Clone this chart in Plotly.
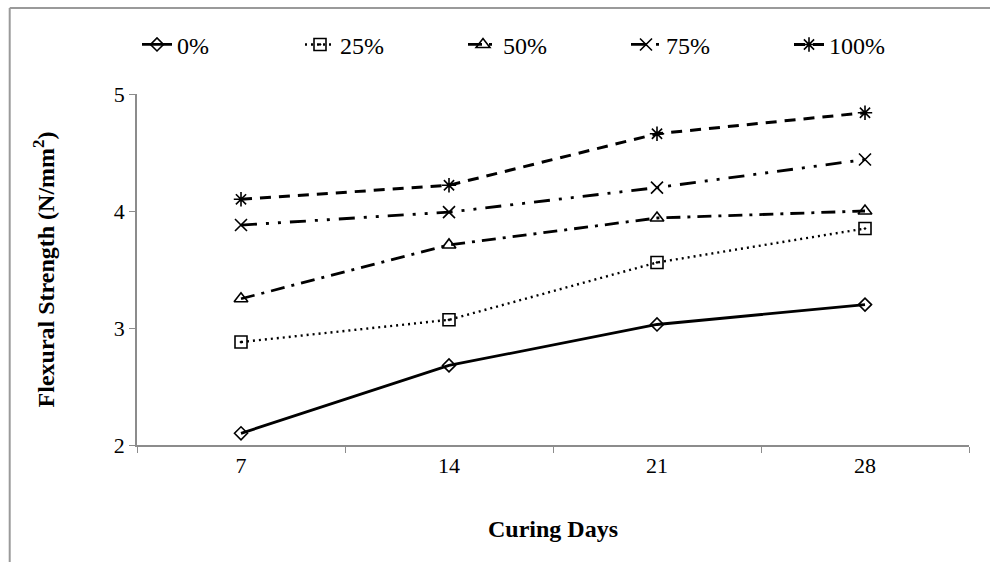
import plotly.graph_objects as go

days = ["7", "14", "21", "28"]
s0 = [2.10, 2.68, 3.03, 3.20]
s25 = [2.88, 3.07, 3.56, 3.85]
s50 = [3.25, 3.71, 3.94, 4.00]
s75 = [3.88, 3.99, 4.20, 4.44]
s100 = [4.10, 4.22, 4.66, 4.84]
names = ["0%", "25%", "50%", "75%", "100%"]

series = [s0, s25, s50, s75, s100]
dashes = ["solid", "2px,4px", "14px,7px,3px,7px", "16px,9px,3px,9px,3px,9px", "11px,8px"]
widths = [2.8, 2.4, 2.8, 2.8, 3.0]
symbols = ["diamond-open", "square-open-dot", "triangle-up-open", "x-thin-open", "asterisk-open"]
sizes = [10, 12, 12, 12, 12]

fig = go.Figure()
for name, vals, dash, w, sym, sz in zip(names, series, dashes, widths, symbols, sizes):
    fig.add_trace(go.Scatter(
        x=days, y=vals, name=name, mode="lines+markers",
        line=dict(color="black", width=w, dash=dash),
        marker=dict(symbol=sym, size=sz, color="black", line=dict(color="black", width=1.6)),
    ))

font_family = "Liberation Serif, Times New Roman, serif"
fig.update_layout(
    width=990, height=562,
    margin=dict(l=137, r=21, t=94, b=117, autoexpand=False),
    paper_bgcolor="white", plot_bgcolor="white",
    font=dict(family=font_family, size=22, color="black"),
    showlegend=True,
    legend=dict(orientation="h", x=0.0, xanchor="left", y=1.14, yanchor="middle",
                font=dict(size=24), entrywidth=118, tracegroupgap=0,
                bgcolor="rgba(0,0,0,0)"),
    xaxis=dict(
        type="category", tickson="boundaries", ticks="outside", ticklen=6,
        tickcolor="#8c8c8c", showline=True, linecolor="#8c8c8c", linewidth=1.5,
        showgrid=False, range=[-0.5, 3.5],
        title=dict(text="<b>Curing Days</b>", font=dict(size=24), standoff=43),
        tickfont=dict(size=22),
    ),
    yaxis=dict(
        range=[2, 5], dtick=1, ticks="outside", ticklen=6, tickcolor="#8c8c8c",
        showline=True, linecolor="#8c8c8c", linewidth=1.5, showgrid=False, zeroline=False,
        title=dict(text="<b>Flexural Strength (N/mm<sup>2</sup>)</b>", font=dict(size=24), standoff=52),
        tickfont=dict(size=22),
    ),
)

# outer frame (top and left edges visible)
fig.add_shape(type="line", xref="paper", yref="paper", x0=-0.153, x1=1.1, y0=1.245, y1=1.245,
              line=dict(color="#9a9a9a", width=2))
fig.add_shape(type="line", xref="paper", yref="paper", x0=-0.153, x1=-0.153, y0=1.245, y1=-0.5,
              line=dict(color="#9a9a9a", width=2))

fig.write_html("out.html")
